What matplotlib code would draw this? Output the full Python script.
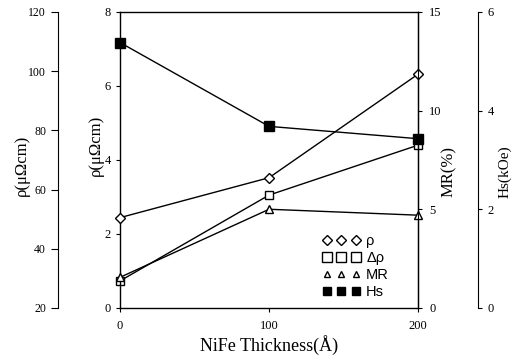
import matplotlib.pyplot as plt
from matplotlib.lines import Line2D

# dane
thickness = [0, 100, 200]
rho = [50.5, 64, 99]        # uOhm cm (lewa zewnetrzna os)
drho = [0.73, 3.05, 4.4]    # uOhm cm (lewa wewnetrzna os)
mr = [1.55, 5.0, 4.7]       # %
hs = [5.38, 3.68, 3.43]     # kOe

serif = 'Liberation Serif'
sans = 'Liberation Sans'

fig = plt.figure(figsize=(5.15, 3.61), dpi=100)
ax = fig.add_axes([0.233, 0.147, 0.579, 0.82])

# wewnetrzna os: delta rho
ax.set_xlim(0, 200)
ax.set_ylim(0, 8)
ax.set_xticks([0, 100, 200])
ax.set_yticks([0, 2, 4, 6, 8])
ax.tick_params(labelsize=9, length=3, width=0.8, direction='out')
ax.tick_params(axis='x', pad=6)
for t in ax.get_xticklabels() + ax.get_yticklabels():
    t.set_fontfamily(serif)
for s in ax.spines.values():
    s.set_linewidth(1.0)
ax.set_xlabel('NiFe Thickness(Å)', fontfamily=serif, fontsize=13, labelpad=2)
ax.set_ylabel('ρ(μΩcm)', fontfamily=serif, fontsize=12)
ax.yaxis.set_label_coords(-0.054, 0.55)

# zewnetrzna os lewa: rho
ax_rho = ax.twinx()
ax_rho.set_ylim(20, 120)
ax_rho.set_yticks([20, 40, 60, 80, 100, 120])
ax_rho.yaxis.set_ticks_position('left')
ax_rho.yaxis.set_label_position('left')
ax_rho.spines['left'].set_position(('axes', -0.208))
for k in ['top', 'bottom', 'right']:
    ax_rho.spines[k].set_visible(False)
ax_rho.tick_params(labelsize=8.5, length=5, width=0.8, direction='out')
for t in ax_rho.get_yticklabels():
    t.set_fontfamily(serif)
ax_rho.set_ylabel('ρ(μΩcm)', fontfamily=serif, fontsize=12)
ax_rho.yaxis.set_label_coords(-0.302, 0.48)

# prawa os: MR
ax_mr = ax.twinx()
ax_mr.set_ylim(0, 15)
ax_mr.set_yticks([0, 5, 10, 15])
for k in ['top', 'bottom', 'left']:
    ax_mr.spines[k].set_visible(False)
ax_mr.tick_params(labelsize=9, length=3, width=0.8, direction='out', pad=5)
for t in ax_mr.get_yticklabels():
    t.set_fontfamily(serif)
ax_mr.set_ylabel('MR(%)', fontfamily=serif, fontsize=12)
ax_mr.yaxis.set_label_coords(1.075, 0.46)

# skrajna prawa os: Hs
ax_hs = ax.twinx()
ax_hs.set_ylim(0, 6)
ax_hs.set_yticks([0, 2, 4, 6])
ax_hs.spines['right'].set_position(('axes', 1.201))
for k in ['top', 'bottom', 'left']:
    ax_hs.spines[k].set_visible(False)
ax_hs.tick_params(labelsize=9, length=3, width=0.8, direction='out', pad=4)
for t in ax_hs.get_yticklabels():
    t.set_fontfamily(serif)
ax_hs.set_ylabel('Hs(kOe)', fontfamily=serif, fontsize=11)
ax_hs.yaxis.set_label_coords(1.268, 0.46)

kw = dict(color='black', lw=1.0, clip_on=False)
ax_rho.plot(thickness, rho, marker='D', ms=5, mfc='white', mec='black', **kw)
ax.plot(thickness, drho, marker='s', ms=6, mfc='white', mec='black', **kw)
ax_mr.plot(thickness, mr, marker='^', ms=6, mfc='white', mec='black', **kw)
ax_hs.plot(thickness, hs, marker='s', ms=7, mfc='black', mec='black', **kw)

# legenda
handles = [
    Line2D([], [], ls='none', marker='D', ms=5, mfc='white', mec='black'),
    Line2D([], [], ls='none', marker='s', ms=7, mfc='white', mec='black'),
    Line2D([], [], ls='none', marker='^', ms=5, mfc='white', mec='black'),
    Line2D([], [], ls='none', marker='s', ms=6, mfc='black', mec='black'),
]
labels = ['ρ', 'Δρ', 'MR', 'Hs']
leg = ax_hs.legend(handles, labels, numpoints=3, frameon=False,
                   loc='lower left', bbox_to_anchor=(0.635, -0.015),
                   handlelength=2.6, handletextpad=0.4, labelspacing=0.2,
                   prop={'family': sans, 'size': 10.5})

plt.savefig('out.png', dpi=100)
